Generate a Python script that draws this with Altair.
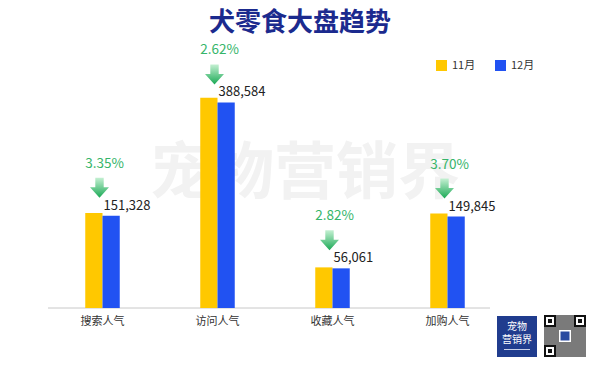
import altair as alt
import pandas as pd

categories = ["搜索人气", "访问人气", "收藏人气", "加购人气"]
months = ["11月", "12月"]
nov_values = [156573, 399039, 57688, 155603]
dec_values = [151328, 388584, 56061, 149845]
dec_labels = ["151,328", "388,584", "56,061", "149,845"]
pct_labels = ["3.35%", "2.62%", "2.82%", "3.70%"]
colors = ["#FFC800", "#2152F2"]
title_text = "犬零食大盘趋势"
watermark_text = "宠物营销界"
logo_lines = ["宠物", "营销界"]

FONT = "Noto Sans CJK SC"

wide = pd.DataFrame({"cat": categories, "dec": dec_values, "label": dec_labels, "pct": pct_labels})
long_df = pd.DataFrame({
    "cat": categories * 2,
    "month": [months[0]] * len(categories) + [months[1]] * len(categories),
    "value": nov_values + dec_values,
})
one = pd.DataFrame({"k": [0]})

x_enc = alt.X(
    "cat:N", sort=categories,
    scale=alt.Scale(paddingInner=0.7, paddingOuter=0.35),
    axis=alt.Axis(title=None, labelAngle=0, ticks=False, domain=False,
                  labelFont=FONT, labelFontSize=11, labelColor="#333333", labelPadding=7),
)
y_scale = alt.Scale(type="pow", exponent=0.85, domain=[0, 480000], nice=False)

watermark = alt.Chart(one).mark_text(
    font=FONT, fontSize=62, fontWeight="bold", color="#f2f2f2", baseline="middle"
).encode(x=alt.value(260), y=alt.value(113), text=alt.value(watermark_text))

baseline_rule = alt.Chart(one).mark_rule(color="#c8c8c8", strokeWidth=1).encode(
    x=alt.value(3), x2=alt.value(445), y=alt.value(246))

bars = alt.Chart(long_df).mark_bar().encode(
    x=x_enc,
    xOffset=alt.XOffset("month:N", sort=months, scale=alt.Scale(domain=months, paddingInner=0, paddingOuter=0)),
    y=alt.Y("value:Q", scale=y_scale, axis=None),
    color=alt.Color("month:N", sort=months, scale=alt.Scale(domain=months, range=colors),
                    legend=alt.Legend(title=None, orient="none", legendX=391, legendY=-2,
                                      direction="horizontal", symbolType="square", symbolSize=121,
                                      symbolStrokeWidth=0, labelFont=FONT, labelFontSize=11,
                                      labelColor="#333333", columnPadding=19, padding=0, labelOffset=5)),
)

value_text = alt.Chart(wide).mark_text(
    align="left", baseline="bottom", dx=1, dy=-3, font=FONT, fontSize=13, color="#222222"
).encode(x=x_enc, y=alt.Y("dec:Q", scale=y_scale, axis=None), text="label:N")

ARROW = "M-0.42,-1 L0.42,-1 L0.42,-0.05 L0.95,-0.05 L0,1 L-0.95,-0.05 L-0.42,-0.05 Z"
arrows = alt.Chart(wide).mark_point(
    shape=ARROW, size=400, filled=True, strokeWidth=0, opacity=1, yOffset=-28, xOffset=-3,
    fill=alt.Gradient(gradient="linear",
                      stops=[alt.GradientStop(color="#c4f0d2", offset=0),
                             alt.GradientStop(color="#1aa955", offset=1)],
                      x1=0, x2=0, y1=0, y2=1),
).encode(x=x_enc, y=alt.Y("dec:Q", scale=y_scale, axis=None))

pct_text = alt.Chart(wide).mark_text(
    baseline="middle", align="center", dy=-52, dx=2, font=FONT, fontSize=13.5, color="#36b56a"
).encode(x=x_enc, y=alt.Y("dec:Q", scale=y_scale, axis=None), text="pct:N")

title = alt.Chart(one).mark_text(
    font=FONT, fontSize=26, fontWeight="bold", color="#1B2A8E", baseline="middle"
).encode(x=alt.value(255), y=alt.value(-39), text=alt.value(title_text))


def box(x1, x2, y1, y2, color):
    return alt.Chart(one).mark_rect(color=color).encode(
        x=alt.value(x1), x2=alt.value(x2), y=alt.value(y1), y2=alt.value(y2))


deco = [box(452, 492, 254, 295, "#203C8E")]
deco.append(alt.Chart(one).mark_text(font=FONT, fontSize=10, color="white", baseline="middle").encode(
    x=alt.value(472), y=alt.value(265), text=alt.value(logo_lines[0])))
deco.append(alt.Chart(one).mark_text(font=FONT, fontSize=10, color="white", baseline="middle").encode(
    x=alt.value(472), y=alt.value(278), text=alt.value(logo_lines[1])))
deco.append(box(459, 485, 287, 288, "#c8d0ea"))
# QR-like block
qx, qy, qs = 499, 253, 42
deco.append(box(qx, qx + qs, qy, qy + qs, "#7a7a7a"))
for fx, fy in [(qx, qy), (qx + qs - 12, qy), (qx, qy + qs - 12)]:
    deco.append(box(fx, fx + 12, fy, fy + 12, "#111111"))
    deco.append(box(fx + 2, fx + 10, fy + 2, fy + 10, "#ffffff"))
    deco.append(box(fx + 4, fx + 8, fy + 4, fy + 8, "#111111"))
deco.append(box(qx + 15, qx + 27, qy + 15, qy + 27, "#ffffff"))
deco.append(box(qx + 16.5, qx + 25.5, qy + 16.5, qy + 25.5, "#2a4aa0"))

chart = alt.layer(watermark, baseline_rule, bars, value_text, arrows, pct_text, title, *deco).properties(
    width=460, height=246,
    autosize=alt.AutoSizeParams(type="none"),
    padding={"left": 37, "top": 54, "right": 87, "bottom": 60},
).configure_view(stroke=None)

chart.save("out.html", embed_options={"renderer": "svg", "actions": False})
